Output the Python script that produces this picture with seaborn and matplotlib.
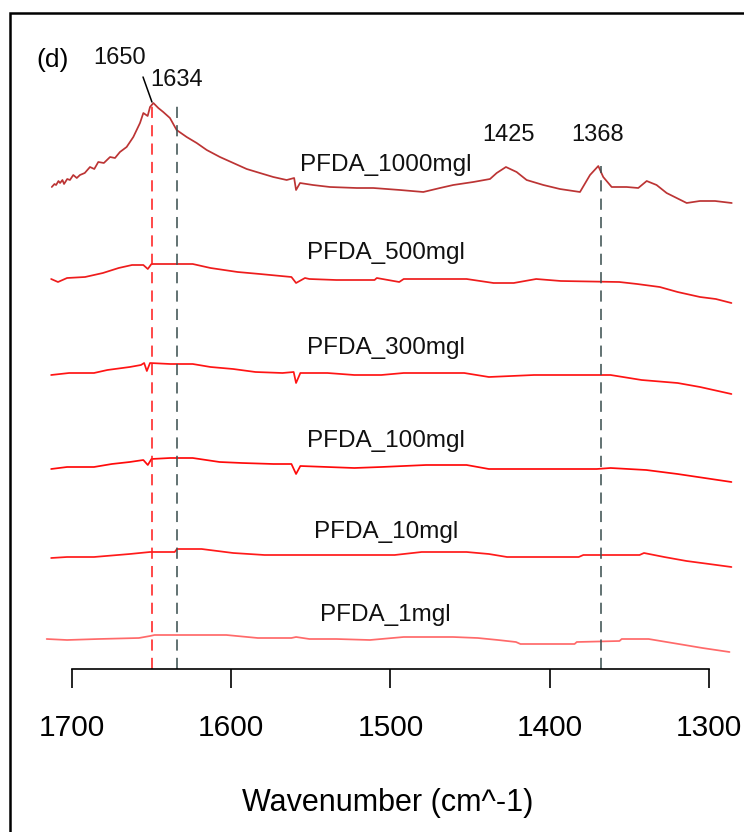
import numpy as np
import pandas as pd
import matplotlib
matplotlib.use("Agg")
import matplotlib.pyplot as plt
import seaborn as sns
from matplotlib.patches import Rectangle

# spectra: wavenumber (cm^-1) and offset absorbance (a.u.)
wn_1000 = [1712.7, 1711, 1710, 1708.5, 1707.5, 1706, 1705, 1703, 1701.3, 1699.2,
           1697, 1695, 1692, 1688.7, 1686, 1683.5, 1680, 1676.1, 1673, 1669.9,
           1665.7, 1661.5, 1657.3, 1655.2, 1652.5, 1651, 1648.9, 1645.8, 1642.7,
           1638.5, 1634.3, 1628, 1621.7, 1615.4, 1607.1, 1598.7, 1590.3, 1582, 1573.6,
           1565.2, 1560.5, 1559.3, 1556.8, 1548.7, 1538, 1521.2, 1510.8, 1494, 1479.4,
           1468.9, 1460.6, 1448, 1437.5, 1433.3, 1427.5, 1420.8, 1414.5, 1404, 1393.6,
           1381, 1374.7, 1369.5, 1366.4, 1361.1, 1351.7, 1344.4, 1339.1, 1332.9, 1326.6,
           1314, 1305.7, 1296.2, 1285.7]
ab_1000 = [482, 485, 484, 488, 486, 489, 485, 490, 489, 494,
           491, 494, 496, 502, 500, 507, 506, 512, 511, 517,
           522, 532, 546, 556, 553, 562, 566, 561, 557,
           551, 539, 532, 526, 519, 512, 506, 500, 496, 492,
           489, 491, 479, 486, 484, 482, 481, 481, 479, 477,
           481, 484, 487, 490, 496, 502, 497, 489, 484, 480,
           477, 494, 503, 492, 482, 482, 481, 488, 484, 476,
           466, 468, 468, 466]

wn_500 = [1713.1, 1708.8, 1703.1, 1691.8, 1680.6, 1670.7, 1662.3, 1655.2, 1652.4, 1650.1,
          1624.2, 1613, 1596, 1582, 1562.2, 1559.3, 1553.7, 1550.9, 1534, 1510,
          1508.6, 1494.5, 1491.7, 1452.2, 1435.3, 1422.6, 1408.5, 1393, 1356.3, 1345.1,
          1330.9, 1319.7, 1305.6, 1295.7, 1285.9]
ab_500 = [390, 387, 391, 392, 396, 401, 404, 404, 400, 405,
          405, 401, 397, 395, 392, 386, 391, 390, 389, 389,
          391, 387, 390, 390, 386, 386, 390, 388, 387, 385,
          382, 377, 372, 370, 366]

wn_300 = [1713.1, 1701.8, 1686.2, 1677.8, 1663.7, 1656.7, 1654.7, 1653, 1651, 1638.3,
          1624.2, 1613, 1598.8, 1584.8, 1567.8, 1560.8, 1559.3, 1556.6, 1539.6, 1522.7,
          1505.8, 1491.7, 1453.7, 1438.2, 1409.9, 1381.8, 1361.8, 1342.3, 1319.7, 1305.6,
          1285.9]
ab_300 = [294, 296, 296, 299, 302, 304, 306, 298, 306, 305,
          305, 302, 300, 297, 296, 297, 286, 296, 296, 294,
          294, 296, 296, 292, 294, 294, 294, 289, 286, 282,
          275]

wn_100 = [1713.1, 1703.1, 1686.2, 1675, 1663.7, 1655.2, 1652.4, 1650.1, 1638.3, 1624.2,
          1607.3, 1593.2, 1573.5, 1562.2, 1559.3, 1556.6, 1539.6, 1522.7, 1505.8, 1477.6,
          1452.2, 1438.2, 1370.5, 1361.8, 1339.4, 1319.7, 1302.8, 1285.9]
ab_100 = [200, 202, 202, 205, 207, 209, 204, 210, 211, 211,
          207, 206, 205, 205, 195, 203, 202, 201, 202, 204,
          204, 200, 200, 201, 199, 195, 191, 187]

wn_10 = [1713.1, 1703.1, 1686.2, 1663.7, 1651, 1635.5, 1634.1, 1618.6, 1598.8, 1579.1,
         1497.4, 1480.4, 1452.2, 1438.2, 1426.8, 1381.8, 1378.9, 1343.6, 1340.8, 1328.1,
         1314.1, 1299.9, 1285.9]
ab_10 = [111, 112, 112, 115, 117, 117, 120, 120, 116, 114,
         114, 117, 117, 115, 112, 112, 114, 114, 116, 112,
         108, 105, 102]

wn_1 = [1715.9, 1703.1, 1683.4, 1658, 1651, 1648.2, 1603.1, 1583.3, 1562.2, 1559.3,
        1550.9, 1534, 1512.9, 1491.7, 1460.7, 1445.2, 1432.5, 1421.2, 1418.4, 1384.4,
        1383, 1356.2, 1354.8, 1337.9, 1326.6, 1315.3, 1304.1, 1287.1]
ab_1 = [30, 29, 30, 31, 33, 34, 34, 31, 31, 32,
        30, 30, 29, 32, 32, 31, 29, 27, 25, 25,
        27, 28, 30, 30, 27, 24, 21, 17]

samples = ["PFDA_1000mgl", "PFDA_500mgl", "PFDA_300mgl", "PFDA_100mgl", "PFDA_10mgl", "PFDA_1mgl"]
label_heights = [504, 416, 321, 228, 137, 54]
colors = ["#BC3434", "#EE1C1C", "#FF1414", "#FF0A0A", "#FF1A1A", "#FF6A6A"]

peak_names = ["1650", "1634", "1425", "1368"]
peak_label_x = [1669.9, 1634.3, 1426.2, 1370]
peak_label_y = [611, 589, 534, 534]

frames = []
for name, wn, ab in zip(samples,
                        [wn_1000, wn_500, wn_300, wn_100, wn_10, wn_1],
                        [ab_1000, ab_500, ab_300, ab_100, ab_10, ab_1]):
    frames.append(pd.DataFrame({"wavenumber": wn, "absorbance": ab, "sample": name}))
df = pd.concat(frames, ignore_index=True)

sns.set_style("white")
plt.rcParams["font.family"] = ["Liberation Sans", "DejaVu Sans"]

fig = plt.figure(figsize=(7.44, 8.32), dpi=100)
ax = fig.add_axes([22 / 744, 1 - 669 / 832, 722 / 744, 649 / 832])

sns.lineplot(data=df, x="wavenumber", y="absorbance", hue="sample",
             palette=dict(zip(samples, colors)), estimator=None, sort=False,
             legend=False, linewidth=1.25, ax=ax)

# marker lines for the peaks
dash = (0, (7, 4.5))
ax.plot([1650, 1650], [0, 565], color="#FF2020", lw=1.15, linestyle=dash)
ax.plot([1634, 1634], [0, 566], color="#3E5252", lw=1.15, linestyle=dash)
ax.plot([1368, 1368], [0, 503], color="#3E5252", lw=1.15, linestyle=dash)
ax.plot([1655.4, 1649.8], [592, 567], color="black", lw=1.1)

for name, yy in zip(samples, label_heights):
    ax.text(1503, yy, name, ha="center", va="center", fontsize=17.5, color="#111111")
for name, xx, yy in zip(peak_names, peak_label_x, peak_label_y):
    ax.text(xx, yy, name, ha="center", va="center", fontsize=17, color="#111111")
ax.text(1711.9, 609, "(d)", ha="center", va="center", fontsize=19, color="black")

ax.set_xlim(1731.4, 1278)
ax.set_ylim(0, 649)
ax.set_xticks([1700, 1600, 1500, 1400, 1300])
ax.set_yticks([])
ax.set_ylabel("")
for side in ["top", "right", "left"]:
    ax.spines[side].set_visible(False)
ax.spines["bottom"].set_bounds(1700, 1300)
ax.spines["bottom"].set_linewidth(1.2)
ax.spines["bottom"].set_color("black")
ax.tick_params(axis="x", bottom=True, direction="out", length=13.7, width=1.2, pad=19,
               labelsize=21.5, colors="black")
ax.set_xlabel("Wavenumber (cm^-1)", fontsize=22, color="black")
ax.xaxis.set_label_coords(366 / 722, -119 / 649)
ax.patch.set_alpha(0)

# outer frame of the panel
fig.patches.append(Rectangle((10 / 744, -0.1), 1.2, 1.1 - 13 / 832, transform=fig.transFigure,
                             fill=False, edgecolor="black", linewidth=1.8))

fig.savefig("out.png", dpi=100)
